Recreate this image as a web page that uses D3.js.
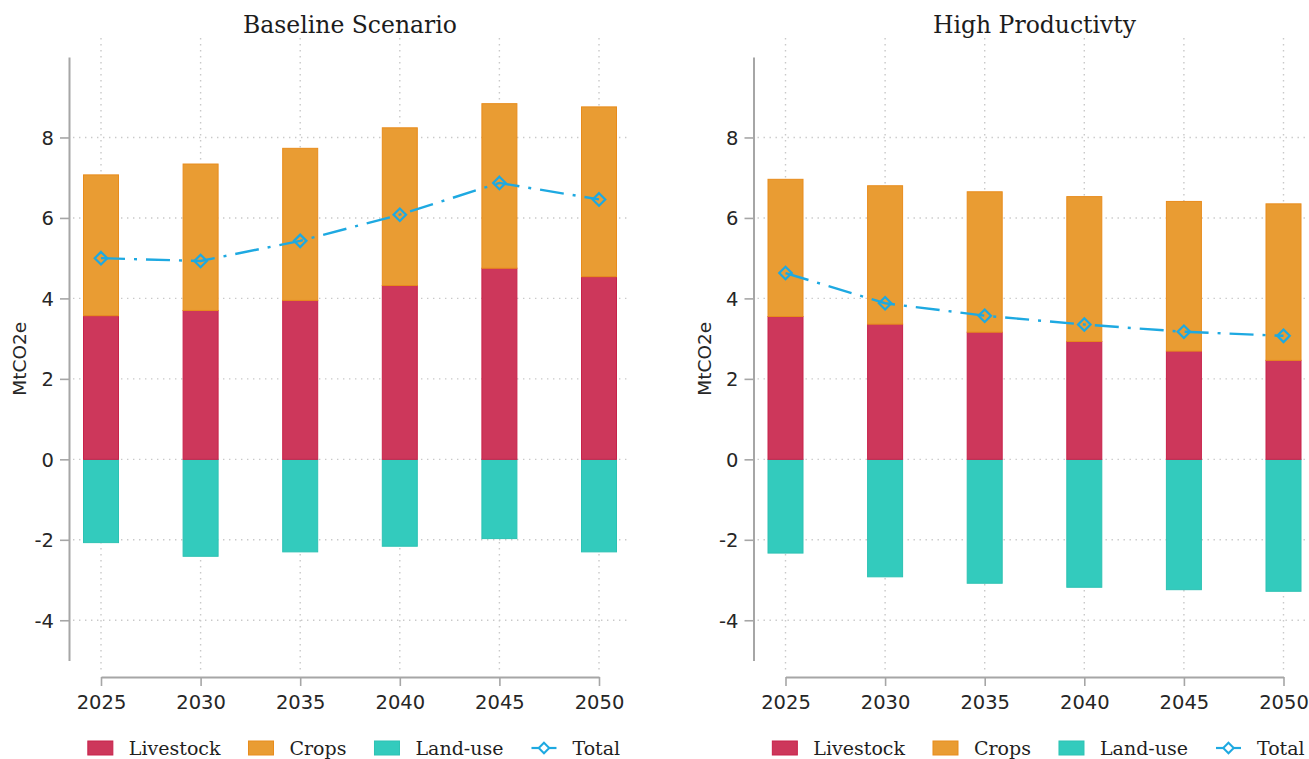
<!DOCTYPE html>
<html>
<head>
<meta charset="utf-8">
<script src="https://cdn.jsdelivr.net/npm/d3@7"></script>
<style>
  html, body { margin: 0; padding: 0; background: #fff; }
  svg { display: block; }
</style>
</head>
<body>
<svg id="chart" width="1309" height="759"></svg>
<script>
// Emissions by source (MtCO2e), two scenarios
const years = [2025, 2030, 2035, 2040, 2045, 2050];
const yTickValues = [-4, -2, 0, 2, 4, 6, 8];
const seriesNames = ["Livestock", "Crops", "Land-use", "Total"];

const baselineLivestock = [3.57, 3.70, 3.95, 4.32, 4.75, 4.54];
const baselineCrops     = [3.50, 3.64, 3.78, 3.92, 4.09, 4.22];
const baselineLandUse   = [-2.07, -2.41, -2.30, -2.16, -1.97, -2.30];
const baselineTotal     = [5.00, 4.93, 5.43, 6.08, 6.87, 6.46];

const highLivestock = [3.55, 3.36, 3.16, 2.93, 2.69, 2.46];
const highCrops     = [3.41, 3.44, 3.49, 3.60, 3.72, 3.89];
const highLandUse   = [-2.33, -2.92, -3.08, -3.18, -3.24, -3.28];
const highTotal     = [4.63, 3.88, 3.57, 3.35, 3.17, 3.07];

const panels = [
  { title: "Baseline Scenario", livestock: baselineLivestock, crops: baselineCrops, landUse: baselineLandUse, total: baselineTotal, dx: 0 },
  { title: "High Productivty", livestock: highLivestock, crops: highCrops, landUse: highLandUse, total: highTotal, dx: 684.5 }
];

const colors = {
  livestock: { fill: "#cd375b", stroke: "#c8224a" },
  crops:     { fill: "#e99c33", stroke: "#e88c1c" },
  landUse:   { fill: "#33cbbd", stroke: "#2cc2b3" },
  total:     "#1ea9e1"
};

const svg = d3.select("#chart");
const sansFont = "'DejaVu Sans', Verdana, sans-serif";
const serifFont = "'DejaVu Serif', serif";
// plain hyphen for negative numbers
const intFmt = d => String(Math.round(d));

panels.forEach(p => {
  const g = svg.append("g").attr("transform", `translate(${p.dx},0)`);

  const x = d3.scaleLinear().domain([2025, 2050]).range([101, 599]);
  const y = d3.scaleLinear().domain([-5, 10]).range([660.5, 57]);
  const barW = 35;
  const plotLeft = 73, plotRight = 630, plotTop = 38, plotBottom = 672;

  // dotted grid
  const grid = g.append("g").attr("stroke", "#c9c9c9").attr("stroke-width", 1.4)
    .attr("stroke-dasharray", "1.4,4.6").attr("fill", "none");
  grid.selectAll("line.h").data(yTickValues).join("line")
    .attr("class", "h")
    .attr("x1", plotLeft).attr("x2", plotRight)
    .attr("y1", d => y(d)).attr("y2", d => y(d));
  grid.selectAll("line.v").data(years).join("line")
    .attr("class", "v")
    .attr("x1", d => x(d)).attr("x2", d => x(d))
    .attr("y1", plotTop).attr("y2", plotBottom);

  // stacked bars
  const rows = years.map((yr, i) => ({
    year: yr,
    livestock: p.livestock[i],
    crops: p.crops[i],
    landUse: p.landUse[i],
    total: p.total[i]
  }));

  const bars = g.append("g");
  bars.selectAll("rect.lu").data(rows).join("rect")
    .attr("class", "lu")
    .attr("x", d => x(d.year) - barW / 2).attr("width", barW)
    .attr("y", y(0)).attr("height", d => y(d.landUse) - y(0))
    .attr("fill", colors.landUse.fill).attr("stroke", colors.landUse.stroke).attr("stroke-width", 1);
  bars.selectAll("rect.ls").data(rows).join("rect")
    .attr("class", "ls")
    .attr("x", d => x(d.year) - barW / 2).attr("width", barW)
    .attr("y", d => y(d.livestock)).attr("height", d => y(0) - y(d.livestock))
    .attr("fill", colors.livestock.fill).attr("stroke", colors.livestock.stroke).attr("stroke-width", 1);
  bars.selectAll("rect.cr").data(rows).join("rect")
    .attr("class", "cr")
    .attr("x", d => x(d.year) - barW / 2).attr("width", barW)
    .attr("y", d => y(d.livestock + d.crops)).attr("height", d => y(d.livestock) - y(d.livestock + d.crops))
    .attr("fill", colors.crops.fill).attr("stroke", colors.crops.stroke).attr("stroke-width", 1);

  // total line with hollow diamonds
  const line = d3.line().x(d => x(d.year)).y(d => y(d.total));
  g.append("path").datum(rows)
    .attr("d", line)
    .attr("fill", "none").attr("stroke", colors.total).attr("stroke-width", 2.4)
    .attr("stroke-dasharray", "24,9,3,9");
  const diamond = d3.symbol().type(d3.symbolDiamond2).size(100);
  g.selectAll("path.mk").data(rows).join("path")
    .attr("class", "mk")
    .attr("transform", d => `translate(${x(d.year)},${y(d.total)})`)
    .attr("d", diamond)
    .attr("fill", "none").attr("stroke", colors.total).attr("stroke-width", 2.2);

  // axes
  const yAxis = d3.axisLeft(y).tickValues(yTickValues).tickSize(9).tickSizeOuter(0).tickPadding(6)
    .tickFormat(intFmt);
  const ya = g.append("g").attr("transform", "translate(69,0)").call(yAxis);
  const xAxis = d3.axisBottom(x).tickValues(years).tickSize(9).tickSizeOuter(0).tickPadding(9)
    .tickFormat(intFmt);
  const xa = g.append("g").attr("transform", "translate(0,677)").call(xAxis);
  [ya, xa].forEach(a => {
    a.select(".domain").attr("stroke", "#a6a6a6").attr("stroke-width", 2);
    a.selectAll(".tick line").attr("stroke", "#a6a6a6").attr("stroke-width", 1.6);
    a.selectAll(".tick text").attr("fill", "#262626")
      .style("font-family", sansFont).style("font-size", "19.5px");
  });
  ya.selectAll(".tick text").attr("dy", "0.36em");

  // axis title
  g.append("text")
    .attr("transform", `translate(26,${(y(10) + y(-5)) / 2}) rotate(-90)`)
    .attr("text-anchor", "middle")
    .attr("fill", "#262626")
    .style("font-family", sansFont).style("font-size", "18.5px")
    .text("MtCO2e");

  // panel title
  g.append("text")
    .attr("x", 350).attr("y", 33)
    .attr("text-anchor", "middle")
    .attr("fill", "#1c1c1c")
    .style("font-family", serifFont).style("font-size", "23.5px")
    .text(p.title);

  // legend
  const leg = g.append("g");
  const items = [
    { name: seriesNames[0], c: colors.livestock },
    { name: seriesNames[1], c: colors.crops },
    { name: seriesNames[2], c: colors.landUse },
    { name: seriesNames[3], line: true }
  ];
  let cx = 0;
  const legY = 748;
  items.forEach(it => {
    const ig = leg.append("g");
    if (it.line) {
      ig.append("line").attr("x1", 0).attr("x2", 25).attr("y1", legY).attr("y2", legY)
        .attr("stroke", colors.total).attr("stroke-width", 2.2);
      ig.append("path").attr("transform", `translate(12.5,${legY})`)
        .attr("d", d3.symbol().type(d3.symbolDiamond2).size(70))
        .attr("fill", "#fff").attr("stroke", colors.total).attr("stroke-width", 2);
    } else {
      ig.append("rect").attr("x", 0).attr("y", legY - 7).attr("width", 25).attr("height", 14)
        .attr("fill", it.c.fill).attr("stroke", it.c.stroke).attr("stroke-width", 1);
    }
    const t = ig.append("text").attr("x", 41).attr("y", legY).attr("dy", "0.36em")
      .attr("fill", "#1f1f1f")
      .style("font-family", serifFont).style("font-size", "19px")
      .text(it.name);
    const w = 41 + t.node().getComputedTextLength();
    ig.attr("transform", `translate(${cx},0)`);
    cx += w + 28;
  });
  const legW = cx - 28;
  leg.attr("transform", `translate(${354 - legW / 2},0)`);
});
</script>
</body>
</html>
